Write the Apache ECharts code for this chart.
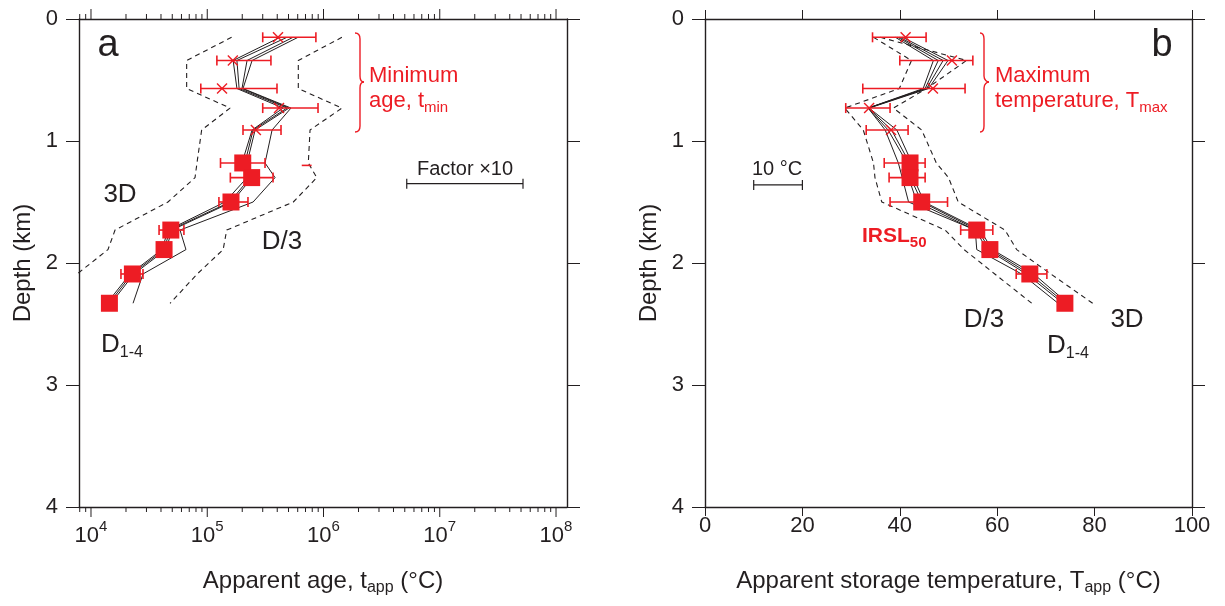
<!DOCTYPE html>
<html>
<head>
<meta charset="utf-8">
<script src="https://cdn.jsdelivr.net/npm/echarts@6/dist/echarts.min.js"></script>
<style>
  html, body { margin: 0; padding: 0; background: #ffffff; }
  #chart { width: 1225px; height: 606px; }
</style>
</head>
<body>
<div id="chart"></div>
<script>
// Sample depths (km): five thermally sensitive samples (crosses) then seven IRSL50 samples (squares)
const depthKm = [0.15, 0.34, 0.57, 0.73, 0.91, 1.18, 1.30, 1.50, 1.73, 1.89, 2.09, 2.33];
const crossDepthKm = [0.15, 0.34, 0.57, 0.73, 0.91];
const squareDepthKm = [1.18, 1.30, 1.50, 1.73, 1.89, 2.09, 2.33];

// ---- Panel a: apparent age (years) ----
const ageD1 = [4.23e5, 1.67e5, 1.80e5, 4.49e5, 2.43e5, 1.99e5, 2.20e5, 1.42e5, 4.60e4, 4.08e4, 2.17e4, 1.37e4];
const ageD2 = [4.85e5, 1.80e5, 1.88e5, 4.85e5, 2.48e5, 2.11e5, 2.33e5, 1.57e5, 4.78e4, 4.25e4, 2.25e4, 1.43e4];
const ageD3 = [5.47e5, 2.20e5, 1.99e5, 5.05e5, 2.58e5, 2.20e5, 2.43e5, 1.63e5, 4.97e4, 4.42e4, 2.34e4, 1.49e4];
const ageD4 = [6.04e5, 2.43e5, 2.03e5, 5.25e5, 3.61e5, 3.14e5, 3.83e5, 2.48e5, 5.83e4, 6.56e4, 2.80e4, 2.30e4];
const ageEnv3D = [1.62e5, 6.65e4, 6.65e4, 1.57e5, 8.95e4, 8.16e4, 7.85e4, 4.59e4, 1.61e4, 1.40e4, 7.6e3];
const ageEnvD3 = [1.44e6, 6.07e5, 6.07e5, 1.44e6, 7.66e5, 7.40e5, 8.75e5, 5.50e5, 1.47e5, 1.37e5, 8.2e4, 4.79e4];

const tminAge = [4.06e5, 1.66e5, 1.34e5, 4.14e5, 2.62e5];
const tminLow = [3.0e5, 1.21e5, 8.8e4, 3.0e5, 2.03e5];
const tminHigh = [8.6e5, 3.53e5, 3.98e5, 8.97e5, 4.31e5];

const irslAge = [2.02e5, 2.41e5, 1.60e5, 4.86e4, 4.25e4, 2.27e4, 1.44e4];
const irslAgeLow = [1.30e5, 1.58e5, 1.26e5, 3.85e4, 3.70e4, 1.81e4, 1.30e4];
const irslAgeHigh = [3.14e5, 3.68e5, 2.24e5, 6.30e4, 4.90e4, 2.80e4, 1.60e4];

const strayAgeMark = [6.5e5, 7.9e5, 1.20];      // short red dash: [from, to, depth]
const ageScaleBar = [5.2e6, 5.2e7, 1.35];       // one decade: "Factor ×10"

// ---- Panel b: apparent storage temperature (°C) ----
const tempD1 = [39.1, 46.9, 44.8, 33.5, 37.0, 39.7, 40.5, 41.8, 55.5, 55.8, 65.0, 72.5];
const tempD2 = [39.6, 47.9, 45.2, 33.5, 37.6, 41.5, 41.8, 43.5, 55.5, 58.0, 66.0, 73.5];
const tempD3 = [40.0, 48.9, 45.5, 33.6, 38.3, 42.0, 42.2, 44.5, 56.0, 58.5, 66.7, 74.0];
const tempD4 = [40.6, 49.9, 45.9, 33.7, 39.4, 42.5, 42.8, 45.0, 56.5, 59.0, 67.5, 74.5];
const tempEnvD3 = [34.6, 42.4, 39.9, 28.7, 32.5, 34.6, 34.9, 36.3, 49.3, 53.2, 59.5, 67.1];
const tempEnv3D = [36.0, 53.7, 45.5, 38.7, 44.5, 47.5, 50.0, 52.0, 61.6, 64.0, 71.0, 79.6];

const tmaxTemp = [41.2, 50.7, 46.8, 33.7, 38.2];
const tmaxLow = [34.4, 40.0, 32.4, 28.9, 33.1];
const tmaxHigh = [45.4, 55.0, 53.4, 38.0, 41.7];

const irslTemp = [42.1, 42.1, 44.5, 55.8, 58.5, 66.7, 73.9];
const irslTempLow = [36.8, 37.8, 38.0, 52.5, 57.0, 63.9, 72.8];
const irslTempHigh = [45.2, 45.2, 49.8, 59.1, 60.0, 70.2, 75.0];

const tempScaleBar = [10, 20, 1.36];            // "10 °C"

// ---- Axis ranges and tick values ----
const AGE_MIN = 7885, AGE_MAX = 1.243e8;
const ageMajorTicks = [1e4, 1e5, 1e6, 1e7, 1e8];
const ageMinorTicks = [8e3, 9e3];
for (let d = 1e4; d < 1e8; d *= 10) {
  for (let m = 2; m <= 9; m++) ageMinorTicks.push(m * d);
}

const INK = '#231f20';
const RED = '#ed1c24';
const FONT = "'Liberation Sans', Arial, Helvetica, sans-serif";

const pairs = (xs, ys) => xs.map((v, i) => [v, ys[i]]);
const bars = (lo, hi, ys) => lo.map((v, i) => [v, hi[i], ys[i]]);

// Horizontal error bar with end caps
function errorBar(params, api) {
  const a = api.coord([api.value(0), api.value(2)]);
  const b = api.coord([api.value(1), api.value(2)]);
  const h = 5;
  const style = { stroke: RED, lineWidth: 1.6 };
  return {
    type: 'group',
    children: [
      { type: 'line', shape: { x1: a[0], y1: a[1], x2: b[0], y2: b[1] }, style },
      { type: 'line', shape: { x1: a[0], y1: a[1] - h, x2: a[0], y2: a[1] + h }, style },
      { type: 'line', shape: { x1: b[0], y1: b[1] - h, x2: b[0], y2: b[1] + h }, style }
    ]
  };
}
// Scale bar (black, with end caps)
function scaleBar(params, api) {
  const a = api.coord([api.value(0), api.value(2)]);
  const b = api.coord([api.value(1), api.value(2)]);
  const h = 5;
  const style = { stroke: INK, lineWidth: 1.2 };
  return {
    type: 'group',
    children: [
      { type: 'line', shape: { x1: a[0], y1: a[1], x2: b[0], y2: b[1] }, style },
      { type: 'line', shape: { x1: a[0], y1: a[1] - h, x2: a[0], y2: a[1] + h }, style },
      { type: 'line', shape: { x1: b[0], y1: b[1] - h, x2: b[0], y2: b[1] + h }, style }
    ]
  };
}
// Plain red dash
function dash(params, api) {
  const a = api.coord([api.value(0), api.value(2)]);
  const b = api.coord([api.value(1), api.value(2)]);
  return { type: 'line', shape: { x1: a[0], y1: a[1], x2: b[0], y2: b[1] }, style: { stroke: RED, lineWidth: 1.6 } };
}
// "×" marker
function crossMark(params, api) {
  const c = api.coord([api.value(0), api.value(1)]);
  const s = 5;
  const style = { stroke: RED, lineWidth: 1.4 };
  return {
    type: 'group',
    children: [
      { type: 'line', shape: { x1: c[0] - s, y1: c[1] - s, x2: c[0] + s, y2: c[1] + s }, style },
      { type: 'line', shape: { x1: c[0] - s, y1: c[1] + s, x2: c[0] + s, y2: c[1] - s }, style }
    ]
  };
}
// Log-axis tick marks on the bottom and top frame edges
function makeTickRenderer(len) {
  return function (params, api) {
    const v = api.value(0);
    const bot = api.coord([v, 4]);
    const top = api.coord([v, 0]);
    const style = { stroke: INK, lineWidth: 1 };
    return {
      type: 'group',
      children: [
        { type: 'line', shape: { x1: bot[0], y1: bot[1], x2: bot[0], y2: bot[1] + len }, style },
        { type: 'line', shape: { x1: top[0], y1: top[1], x2: top[0], y2: top[1] - len }, style }
      ]
    };
  };
}

const axisLine = { show: true, onZero: false, lineStyle: { color: INK, width: 1.4 } };
const tickStyle = { color: INK, width: 1 };
const labelBase = { color: INK, fontFamily: FONT, fontSize: 22 };
const nameStyle = {
  color: INK, fontFamily: FONT, fontSize: 24, lineHeight: 30,
  rich: { s: { fontFamily: FONT, fontSize: 16, color: INK, lineHeight: 12, verticalAlign: 'bottom' } }
};

function depthAxis(grid, pos, withLabels) {
  return {
    gridIndex: grid, type: 'value', inverse: true, min: 0, max: 4, interval: 1, position: pos,
    axisLine, splitLine: { show: false },
    axisTick: { show: true, inside: false, length: 13, lineStyle: tickStyle },
    axisLabel: withLabels ? Object.assign({ margin: 21 }, labelBase) : { show: false },
    name: withLabels ? 'Depth (km)' : '',
    nameLocation: 'middle', nameGap: 44, nameRotate: 90,
    nameTextStyle: { color: INK, fontFamily: FONT, fontSize: 24 }
  };
}

const chart = echarts.init(document.getElementById('chart'), null, { renderer: 'canvas' });

const lineCommon = (xi, yi, data, width, dashed) => ({
  type: 'line', xAxisIndex: xi, yAxisIndex: yi, data, symbol: 'none', silent: true,
  lineStyle: { color: INK, width, type: dashed ? [5, 4] : 'solid' }, z: 2
});

chart.setOption({
  animation: false,
  backgroundColor: '#ffffff',
  grid: [
    { left: 79, top: 19, width: 488, height: 488 },
    { left: 705, top: 19, width: 487, height: 488 }
  ],
  xAxis: [
    {
      gridIndex: 0, type: 'log', logBase: 10, min: AGE_MIN, max: AGE_MAX, position: 'bottom',
      axisLine, splitLine: { show: false }, axisTick: { show: false },
      axisLabel: {
        margin: 12, showMinLabel: false, showMaxLabel: false,
        formatter: v => '{b|10}{e|' + Math.round(Math.log10(v)) + '}',
        rich: {
          b: { fontFamily: FONT, fontSize: 22, color: INK, lineHeight: 28, verticalAlign: 'bottom' },
          e: { fontFamily: FONT, fontSize: 15, color: INK, lineHeight: 14, verticalAlign: 'top' }
        }
      },
      name: 'Apparent age, t{s|app} (°C)', nameLocation: 'middle', nameGap: 59,
      nameTextStyle: nameStyle
    },
    {
      gridIndex: 0, type: 'log', logBase: 10, min: AGE_MIN, max: AGE_MAX, position: 'top',
      axisLine, splitLine: { show: false }, axisTick: { show: false }, axisLabel: { show: false }
    },
    {
      gridIndex: 1, type: 'value', min: 0, max: 100, interval: 20, position: 'bottom',
      axisLine, splitLine: { show: false },
      axisTick: { show: true, length: 9, lineStyle: tickStyle },
      axisLabel: Object.assign({ margin: 8 }, labelBase),
      name: 'Apparent storage temperature, T{s|app} (°C)', nameLocation: 'middle', nameGap: 59,
      nameTextStyle: nameStyle
    },
    {
      gridIndex: 1, type: 'value', min: 0, max: 100, interval: 20, position: 'top',
      axisLine, splitLine: { show: false },
      axisTick: { show: true, length: 9, lineStyle: tickStyle }, axisLabel: { show: false }
    }
  ],
  yAxis: [
    depthAxis(0, 'left', true),
    depthAxis(0, 'right', false),
    depthAxis(1, 'left', true),
    depthAxis(1, 'right', false)
  ],
  series: [
    // ---------- panel a ----------
    { type: 'custom', xAxisIndex: 0, yAxisIndex: 0, data: ageMajorTicks.map(v => [v, 0]),
      renderItem: makeTickRenderer(10), encode: { x: 0, y: 1 }, silent: true, clip: false },
    { type: 'custom', xAxisIndex: 0, yAxisIndex: 0, data: ageMinorTicks.map(v => [v, 0]),
      renderItem: makeTickRenderer(5), encode: { x: 0, y: 1 }, silent: true, clip: false },
    lineCommon(0, 0, pairs(ageEnv3D, depthKm), 1.1, true),
    lineCommon(0, 0, pairs(ageEnvD3, depthKm), 1.1, true),
    lineCommon(0, 0, pairs(ageD1, depthKm), 1, false),
    lineCommon(0, 0, pairs(ageD2, depthKm), 1, false),
    lineCommon(0, 0, pairs(ageD3, depthKm), 1, false),
    lineCommon(0, 0, pairs(ageD4, depthKm), 1, false),
    { type: 'custom', xAxisIndex: 0, yAxisIndex: 0, data: bars(tminLow, tminHigh, crossDepthKm),
      renderItem: errorBar, encode: { x: [0, 1], y: 2 }, silent: true, z: 3 },
    { type: 'custom', xAxisIndex: 0, yAxisIndex: 0, data: pairs(tminAge, crossDepthKm),
      renderItem: crossMark, encode: { x: 0, y: 1 }, silent: true, z: 3 },
    { type: 'custom', xAxisIndex: 0, yAxisIndex: 0, data: bars(irslAgeLow, irslAgeHigh, squareDepthKm),
      renderItem: errorBar, encode: { x: [0, 1], y: 2 }, silent: true, z: 3 },
    { type: 'scatter', xAxisIndex: 0, yAxisIndex: 0, data: pairs(irslAge, squareDepthKm),
      symbol: 'rect', symbolSize: 17, itemStyle: { color: RED, opacity: 1 }, silent: true, z: 4 },
    { type: 'custom', xAxisIndex: 0, yAxisIndex: 0, data: [strayAgeMark],
      renderItem: dash, encode: { x: [0, 1], y: 2 }, silent: true, z: 3 },
    { type: 'custom', xAxisIndex: 0, yAxisIndex: 0, data: [ageScaleBar],
      renderItem: scaleBar, encode: { x: [0, 1], y: 2 }, silent: true, z: 3 },

    // ---------- panel b ----------
    lineCommon(2, 2, pairs(tempEnvD3, depthKm), 1.1, true),
    lineCommon(2, 2, pairs(tempEnv3D, depthKm), 1.1, true),
    lineCommon(2, 2, pairs(tempD1, depthKm), 1, false),
    lineCommon(2, 2, pairs(tempD2, depthKm), 1, false),
    lineCommon(2, 2, pairs(tempD3, depthKm), 1, false),
    lineCommon(2, 2, pairs(tempD4, depthKm), 1, false),
    { type: 'custom', xAxisIndex: 2, yAxisIndex: 2, data: bars(tmaxLow, tmaxHigh, crossDepthKm),
      renderItem: errorBar, encode: { x: [0, 1], y: 2 }, silent: true, z: 3 },
    { type: 'custom', xAxisIndex: 2, yAxisIndex: 2, data: pairs(tmaxTemp, crossDepthKm),
      renderItem: crossMark, encode: { x: 0, y: 1 }, silent: true, z: 3 },
    { type: 'custom', xAxisIndex: 2, yAxisIndex: 2, data: bars(irslTempLow, irslTempHigh, squareDepthKm),
      renderItem: errorBar, encode: { x: [0, 1], y: 2 }, silent: true, z: 3 },
    { type: 'scatter', xAxisIndex: 2, yAxisIndex: 2, data: pairs(irslTemp, squareDepthKm),
      symbol: 'rect', symbolSize: 17, itemStyle: { color: RED, opacity: 1 }, silent: true, z: 4 },
    { type: 'custom', xAxisIndex: 2, yAxisIndex: 2, data: [tempScaleBar],
      renderItem: scaleBar, encode: { x: [0, 1], y: 2 }, silent: true, z: 3 }
  ],
  graphic: [
    // panel letters
    { type: 'text', x: 108, y: 46, style: { text: 'a', font: '38px ' + FONT, fill: INK, align: 'center', verticalAlign: 'middle' } },
    { type: 'text', x: 1162, y: 46, style: { text: 'b', font: '38px ' + FONT, fill: INK, align: 'center', verticalAlign: 'middle' } },
    // bracket + label, panel a
    { type: 'group', children: braceParts(355, 360, 364, 33, 82, 132) },
    { type: 'text', x: 369, y: 76, style: { text: 'Minimum', font: '22px ' + FONT, fill: RED, align: 'left', verticalAlign: 'middle' } },
    { type: 'text', x: 369, y: 101, style: {
        text: 'age, t{s|min}', font: '22px ' + FONT, fill: RED, align: 'left', verticalAlign: 'middle', lineHeight: 28,
        rich: { s: { font: '15px ' + FONT, fill: RED, lineHeight: 12, verticalAlign: 'bottom' } } } },
    { type: 'text', x: 465, y: 169, style: { text: 'Factor ×10', font: '20px ' + FONT, fill: INK, align: 'center', verticalAlign: 'middle' } },
    { type: 'text', x: 120, y: 195, style: { text: '3D', font: '26px ' + FONT, fill: INK, align: 'center', verticalAlign: 'middle' } },
    { type: 'text', x: 282, y: 242, style: { text: 'D/3', font: '26px ' + FONT, fill: INK, align: 'center', verticalAlign: 'middle' } },
    { type: 'text', x: 101, y: 345, style: {
        text: 'D{s|1-4}', font: '26px ' + FONT, fill: INK, align: 'left', verticalAlign: 'middle', lineHeight: 32,
        rich: { s: { font: '16px ' + FONT, fill: INK, lineHeight: 14, verticalAlign: 'bottom' } } } },
    // bracket + label, panel b
    { type: 'group', children: braceParts(980, 984, 989, 33, 82, 132) },
    { type: 'text', x: 995, y: 76, style: { text: 'Maximum', font: '22px ' + FONT, fill: RED, align: 'left', verticalAlign: 'middle' } },
    { type: 'text', x: 995, y: 101, style: {
        text: 'temperature, T{s|max}', font: '22px ' + FONT, fill: RED, align: 'left', verticalAlign: 'middle', lineHeight: 28,
        rich: { s: { font: '15px ' + FONT, fill: RED, lineHeight: 12, verticalAlign: 'bottom' } } } },
    { type: 'text', x: 777, y: 169, style: { text: '10 °C', font: '20px ' + FONT, fill: INK, align: 'center', verticalAlign: 'middle' } },
    { type: 'text', x: 862, y: 236, style: {
        text: 'IRSL{s|50}', font: 'bold 21px ' + FONT, fill: RED, align: 'left', verticalAlign: 'middle', lineHeight: 28,
        rich: { s: { font: 'bold 15px ' + FONT, fill: RED, lineHeight: 12, verticalAlign: 'bottom' } } } },
    { type: 'text', x: 984, y: 320, style: { text: 'D/3', font: '26px ' + FONT, fill: INK, align: 'center', verticalAlign: 'middle' } },
    { type: 'text', x: 1127, y: 320, style: { text: '3D', font: '26px ' + FONT, fill: INK, align: 'center', verticalAlign: 'middle' } },
    { type: 'text', x: 1047, y: 346, style: {
        text: 'D{s|1-4}', font: '26px ' + FONT, fill: INK, align: 'left', verticalAlign: 'middle', lineHeight: 32,
        rich: { s: { font: '16px ' + FONT, fill: INK, lineHeight: 14, verticalAlign: 'bottom' } } } }
  ]
});

// Right-facing curly bracket "}" built from curves and straight strokes
function braceParts(xEnd, xMid, xTip, yTop, yCusp, yBot) {
  const st = { stroke: RED, lineWidth: 1.4, fill: null };
  const r = 6;
  return [
    { type: 'bezierCurve', shape: { x1: xEnd, y1: yTop, cpx1: xMid - 1, cpy1: yTop, cpx2: xMid, cpy2: yTop + 2, x2: xMid, y2: yTop + r }, style: st },
    { type: 'line', shape: { x1: xMid, y1: yTop + r, x2: xMid, y2: yCusp - r }, style: st },
    { type: 'bezierCurve', shape: { x1: xMid, y1: yCusp - r, cpx1: xMid, cpy1: yCusp - 2, cpx2: xTip - 2, cpy2: yCusp, x2: xTip, y2: yCusp }, style: st },
    { type: 'bezierCurve', shape: { x1: xTip, y1: yCusp, cpx1: xTip - 2, cpy1: yCusp, cpx2: xMid, cpy2: yCusp + 2, x2: xMid, y2: yCusp + r }, style: st },
    { type: 'line', shape: { x1: xMid, y1: yCusp + r, x2: xMid, y2: yBot - r }, style: st },
    { type: 'bezierCurve', shape: { x1: xMid, y1: yBot - r, cpx1: xMid, cpy1: yBot - 2, cpx2: xMid - 1, cpy2: yBot, x2: xEnd, y2: yBot }, style: st }
  ];
}
</script>
</body>
</html>
